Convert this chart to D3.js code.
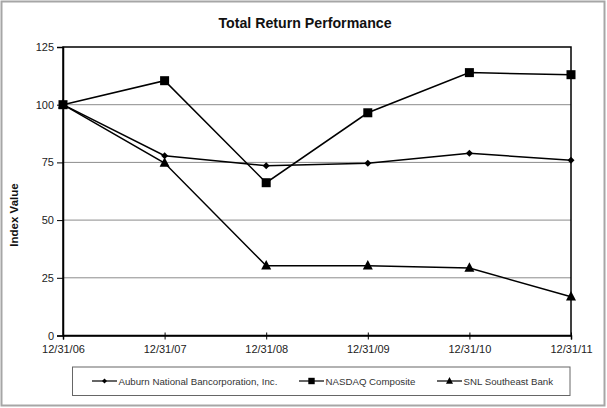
<!DOCTYPE html>
<html><head><meta charset="utf-8">
<script src="https://cdn.jsdelivr.net/npm/d3@7"></script>
<style>body{margin:0;background:#fff}svg{display:block;font-family:"Liberation Sans",Arial,sans-serif}</style>
</head><body><svg id="c" width="607" height="408"></svg>
<script>
const categories = ["12/31/06","12/31/07","12/31/08","12/31/09","12/31/10","12/31/11"];
const auburn = [100, 77.9, 73.6, 74.6, 79.0, 75.9];
const nasdaq = [100, 110.4, 66.2, 96.5, 113.9, 113.0];
const snl = [100, 74.7, 30.2, 30.2, 29.2, 16.8];
const yTicks = [0, 25, 50, 75, 100, 125];
const seriesNames = ["Auburn National Bancorporation, Inc.", "NASDAQ Composite", "SNL Southeast Bank"];
const seriesData = [auburn, nasdaq, snl];
const markers = ["diamond", "square", "triangle"];

const FONT = "Liberation Sans, Arial, sans-serif";
const svg = d3.select("#c");
const L = 63, R = 571, T = 47, B = 335.5;
const x = d3.scalePoint().domain(categories).range([L, R]);
const y = d3.scaleLinear().domain([0, 125]).range([B, T]);

svg.append("rect").attr("x",1.5).attr("y",1.5).attr("width",603).attr("height",404)
  .attr("fill","#fff").attr("stroke","#a6a6a6").attr("stroke-width",2);

svg.append("text").attr("x",305).attr("y",28).attr("text-anchor","middle")
  .attr("font-size",14.2).attr("font-weight","bold").attr("fill","#111").text("Total Return Performance");

// gridlines
svg.append("g").selectAll("line").data(yTicks.filter(d=>d>0 && d<125)).join("line")
  .attr("x1",L).attr("x2",R).attr("y1",d=>y(d)).attr("y2",d=>y(d))
  .attr("stroke","#8c8c8c").attr("stroke-width",1);

svg.append("rect").attr("x",L).attr("y",T).attr("width",R-L).attr("height",B-T)
  .attr("fill","none").attr("stroke","#000").attr("stroke-width",1.5);

// y axis
const ya = svg.append("g").attr("transform",`translate(${L},0)`)
  .call(d3.axisLeft(y).tickValues(yTicks).tickSize(6).tickPadding(3));
ya.select(".domain").attr("stroke","#000").attr("stroke-width",1.5);
ya.selectAll("text").attr("font-size",11).attr("fill","#222").attr("font-family",FONT);

// x axis
const xa = svg.append("g").attr("transform",`translate(0,${B})`)
  .call(d3.axisBottom(x).tickSize(4).tickPadding(6));
xa.select(".domain").attr("stroke","#000").attr("stroke-width",1.5);
xa.selectAll(".tick line").attr("y1",-3).attr("y2",4);
xa.selectAll("text").attr("font-size",11).attr("fill","#222").attr("font-family",FONT);

svg.append("text").attr("transform","translate(18,215) rotate(-90)").attr("text-anchor","middle")
  .attr("font-size",11.5).attr("font-weight","bold").attr("fill","#111").text("Index Value");

function drawMarker(g, type, cx, cy, s){
  if(type==="diamond"){
    g.append("path").attr("d",`M${cx},${cy-s}L${cx+s},${cy}L${cx},${cy+s}L${cx-s},${cy}Z`).attr("fill","#000");
  } else if(type==="square"){
    g.append("rect").attr("x",cx-s).attr("y",cy-s).attr("width",2*s).attr("height",2*s).attr("fill","#000");
  } else {
    g.append("path").attr("d",`M${cx},${cy-s*1.15}L${cx+s},${cy+s*0.75}L${cx-s},${cy+s*0.75}Z`).attr("fill","#000");
  }
}
const line = d3.line().x((d,i)=>x(categories[i])).y(d=>y(d));
const msize = [3.5, 4.5, 5];
seriesData.forEach((s,k)=>{
  const g = svg.append("g");
  g.append("path").attr("d",line(s)).attr("fill","none").attr("stroke","#000").attr("stroke-width",1.5);
  s.forEach((v,i)=>drawMarker(g, markers[k], x(categories[i]), y(v), msize[k]));
});

// legend
svg.append("rect").attr("x",72.5).attr("y",367).attr("width",497.5).attr("height",28.5)
  .attr("fill","#fff").attr("stroke","#666").attr("stroke-width",1);
const legX = [92, 299, 437];
const lmsize = [2.5, 3.2, 3.5];
seriesNames.forEach((n,k)=>{
  const g = svg.append("g");
  g.append("line").attr("x1",legX[k]).attr("x2",legX[k]+25).attr("y1",381).attr("y2",381).attr("stroke","#000").attr("stroke-width",1.2);
  drawMarker(g, markers[k], legX[k]+12.5, 381, lmsize[k]);
  g.append("text").attr("x",legX[k]+26.5).attr("y",384.5).attr("font-size",9.7).attr("fill","#333")
    .attr("font-family",FONT).text(n);
});
</script></body></html>
